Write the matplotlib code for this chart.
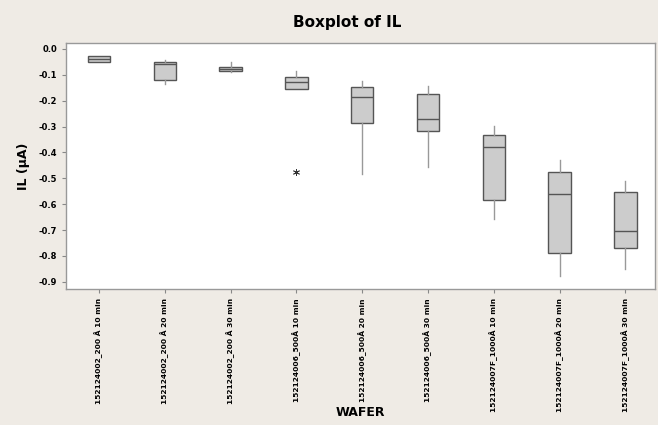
import numpy as np
import matplotlib
matplotlib.use('Agg')
import matplotlib.pyplot as plt

wafers = ['152124002_200 Å 10 min', '152124002_200 Å 20 min', '152124002_200 Å 30 min',
          '152124006_500Å 10 min', '152124006_500Å 20 min', '152124006_500Å 30 min',
          '152124007F_1000Å 10 min', '152124007F_1000Å 20 min', '152124007F_1000Å 30 min']
whishi = [-0.026, -0.043, -0.050, -0.086, -0.124, -0.143, -0.298, -0.431, -0.511]
q3 = [-0.026, -0.049, -0.070, -0.107, -0.148, -0.174, -0.333, -0.475, -0.553]
med = [-0.040, -0.058, -0.078, -0.126, -0.184, -0.271, -0.380, -0.562, -0.702]
q1 = [-0.051, -0.119, -0.086, -0.156, -0.288, -0.317, -0.582, -0.789, -0.770]
whislo = [-0.051, -0.134, -0.090, -0.156, -0.485, -0.456, -0.659, -0.878, -0.850]
outliers = [[], [], [], [-0.475], [], [], [], [], []]

bg = '#efebe5'
fig = plt.figure(figsize=(6.58, 4.25), dpi=100, facecolor=bg)
ax = fig.add_axes([0.1003, 0.32, 0.8951, 0.5788])

stats = []
for i in range(len(wafers)):
    stats.append(dict(med=med[i], q1=q1[i], q3=q3[i], whislo=whislo[i],
                      whishi=whishi[i], fliers=outliers[i]))

ax.bxp(stats, positions=range(1, len(wafers) + 1), widths=0.34, patch_artist=True,
       showcaps=False,
       boxprops=dict(facecolor='#cccccc', edgecolor='#555555', linewidth=1.0),
       medianprops=dict(color='#555555', linewidth=1.0),
       whiskerprops=dict(color='#999999', linewidth=1.0),
       flierprops=dict(marker=(6, 2, 0), markersize=5, markeredgecolor='#333333',
                       markeredgewidth=0.6, linestyle='none'))

ax.set_xlim(0.5, 9.45)
ax.set_ylim(-0.928, 0.023)
yt = np.round(np.arange(0.0, -0.95, -0.1), 1)
ax.set_yticks(yt)
ax.set_yticklabels(['%.1f' % v if v != 0 else '0.0' for v in yt],
                   fontsize=6, fontweight='bold')
ax.set_xticks(range(1, len(wafers) + 1))
ax.set_xticklabels(wafers, rotation=90, fontsize=5.4, fontweight='bold')
ax.tick_params(length=3, color='#888888', width=0.8)
for s in ax.spines.values():
    s.set_color('#999999')
    s.set_linewidth(1.0)

fig.text(347 / 658, 1 - 22 / 425, 'Boxplot of IL', fontsize=11, fontweight='bold',
         ha='center', va='center')
fig.text(360 / 658, 1 - 412 / 425, 'WAFER', fontsize=9, fontweight='bold',
         ha='center', va='center')
ax.set_ylabel('IL (µA)', fontsize=9, fontweight='bold', labelpad=6)

fig.savefig('out.png', dpi=100, facecolor=bg)
